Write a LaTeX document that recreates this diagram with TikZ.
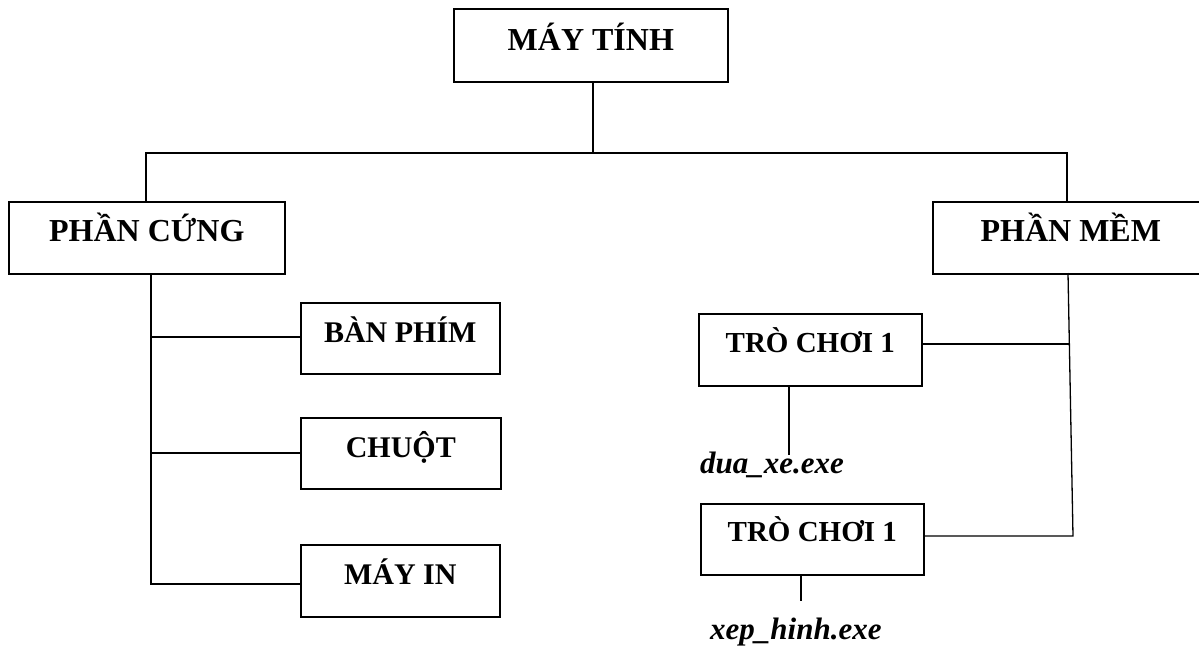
\documentclass[tikz,border=0pt]{standalone}
\usepackage{fontspec}
\setmainfont{Liberation Serif}
\begin{document}
\begin{tikzpicture}[x=1pt,y=-1pt,
  box/.style={draw, line width=1.6pt, rectangle, inner sep=0pt, anchor=north west, font=\bfseries\fontsize{30}{30}\selectfont},
  conn/.style={line width=1.3pt},
  fname/.style={inner sep=0pt, anchor=base west, font=\bfseries\itshape\fontsize{31}{31}\selectfont}]
\useasboundingbox (0,0) rectangle (1199,646);
% boxes: (left, top), width, text height (baseline-top), text depth (bottom-baseline)
\node[box, minimum width=274pt, text height=42pt, text depth=31pt, font=\bfseries\fontsize{32}{32}\selectfont] (top) at (453,8) {MÁY TÍNH};
\node[box, minimum width=276pt, text height=40pt, text depth=32pt, font=\bfseries\fontsize{32}{32}\selectfont] (hw) at (8,201) {PHẦN CỨNG};
\node[box, minimum width=276pt, text height=40pt, text depth=32pt, font=\bfseries\fontsize{32}{32}\selectfont] (sw) at (932,201) {PHẦN MỀM};
\node[box, minimum width=199pt, text height=40pt, text depth=31pt] (bp) at (300,302) {BÀN PHÍM};
\node[box, minimum width=200pt, text height=40pt, text depth=31pt] (ch) at (300,417) {CHUỘT};
\node[box, minimum width=199pt, text height=40pt, text depth=32pt] (mi) at (300,544) {MÁY IN};
\node[box, minimum width=223pt, text height=39pt, text depth=33pt, font=\bfseries\fontsize{29}{29}\selectfont] (tc1) at (698,313) {TRÒ CHƠI 1};
\node[box, minimum width=223pt, text height=38pt, text depth=33pt, font=\bfseries\fontsize{29}{29}\selectfont] (tc2) at (700,503) {TRÒ CHƠI 1};
\node[fname] (dx) at (700,473) {dua\_xe.exe};
\node[fname] (xh) at (710,639) {xep\_hinh.exe};
% junction coordinates
\coordinate (jt) at (593,153);
\coordinate (jl) at (146,153);
\coordinate (jr) at (1067,153);
\coordinate (lt) at (151,273);
\coordinate (l1) at (151,337);
\coordinate (l2) at (151,453);
\coordinate (l3) at (151,584);
\coordinate (rt) at (1068,273);
\coordinate (r1) at (1069,344);
\coordinate (r2) at (1073,536);
\coordinate (dxt) at (789,455);
\coordinate (xht) at (801,601);
% connectors
\draw[conn] (top.south -| jt) -- (jt);
\draw[conn] (hw.north -| jl) -- (jl) -- (jr) -- (sw.north -| jr);
\draw[conn] (lt) -- (l3) -- (mi.west |- l3);
\draw[conn] (l1) -- (bp.west |- l1);
\draw[conn] (l2) -- (ch.west |- l2);
\draw[conn] (rt) -- (r2) -- (tc2.east |- r2);
\draw[conn] (r1) -- (tc1.east |- r1);
\draw[conn] (tc1.south -| dxt) -- (dxt);
\draw[conn] (tc2.south -| xht) -- (xht);
\end{tikzpicture}
\end{document}
